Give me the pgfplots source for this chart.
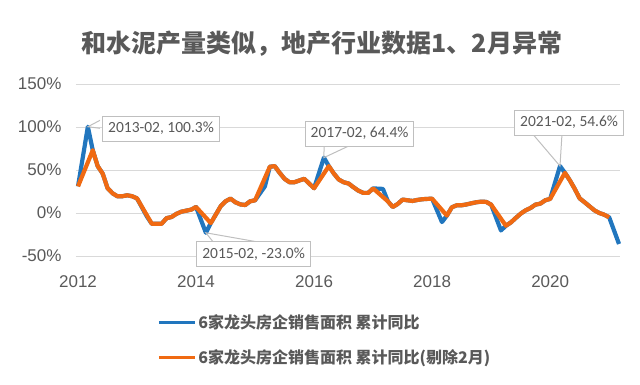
\documentclass[border=0pt]{standalone}
\usepackage{fontspec}
\setmainfont{Liberation Sans}
\newfontfamily\cjk{Noto Sans CJK SC}
\newfontfamily\lbl{Carlito}
\usepackage{pgfplots}
\pgfplotsset{compat=1.18}
\usepackage{pgfplotstable}
\definecolor{cblue}{RGB}{33,118,190}
\definecolor{corange}{RGB}{240,106,18}
\definecolor{tgray}{RGB}{89,89,89}
\definecolor{ggray}{RGB}{217,217,217}
\definecolor{bgray}{RGB}{191,191,191}

\pgfplotstableread{
m v
0 31
2 100.3
3 73
4 54.5
5 46
6 29
7 23
8 19.5
9 19.5
10 20.6
11 19.5
12 17
14 -4
15 -12.5
16 -12.5
17 -12.5
18 -6
19 -4.7
20 -1
21 1.5
22 2.7
23 3.9
24 7
26 -23
27 -11.7
28 -2
29 7.8
30 13.6
31 16.7
32 12.5
33 10
34 9.3
35 13.6
36 14.8
38 31
39 53.8
40 54.5
41 46.7
42 39.7
43 35.8
44 35.8
45 37.8
46 39.7
47 34.3
48 28.8
50 64.4
51 54.5
52 46
53 39
54 35.8
55 34.3
56 30
57 26
58 23.4
59 23.4
60 28.6
62 28
63 13.6
64 7
65 10.5
66 15.6
67 14.8
68 14
69 15.2
70 16
71 16.4
72 16.6
74 -10.5
75 -3
76 6.6
77 9
78 9
79 10
80 11.3
81 12.5
82 13.2
83 12.9
84 9.7
86 -20.3
87 -14.8
88 -11
89 -5.8
90 -0.8
91 3.1
92 5.8
93 9.7
94 10.9
95 14.8
96 16.4
98 54.6
99 46.7
100 38
101 28
102 17
103 12.5
104 7.8
105 3.1
106 0
107 -2
108 -5
110 -36
}\blueseries

\pgfplotstableread{
m v
0 31
3 73
4 54.5
5 46
6 29
7 23
8 19.5
9 19.5
10 20.6
11 19.5
12 17
15 -12.5
16 -12.5
17 -12.5
18 -6
19 -4.7
20 -1
21 1.5
22 2.7
23 3.9
24 7
27 -11.7
28 -2
29 7.8
30 13.6
31 16.7
32 12.5
33 10
34 9.3
35 13.6
36 14.8
39 53.8
40 54.5
41 46.7
42 39.7
43 35.8
44 35.8
45 37.8
46 39.7
47 34.3
48 28.8
51 54.5
52 46
53 39
54 35.8
55 34.3
56 30
57 26
58 23.4
59 23.4
60 28.6
63 13.6
64 7
65 10.5
66 15.6
67 14.8
68 14
69 15.2
70 16
71 16.4
72 16.6
75 -3
76 6.6
77 9
78 9
79 10
80 11.3
81 12.5
82 13.2
83 12.9
84 9.7
87 -14.8
88 -11
89 -5.8
90 -0.8
91 3.1
92 5.8
93 9.7
94 10.9
95 14.8
96 16.4
99 46.7
100 38
101 28
102 17
103 12.5
104 7.8
105 3.1
106 0
107 -2
108 -5
}\orangeseries

\begin{document}
\begin{tikzpicture}
\path[use as bounding box] (-76pt,-128pt) rectangle (564pt,256pt);
\begin{axis}[at={(0pt,0pt)}, anchor=south west, scale only axis,
 width=544pt, height=172pt,
 xmin=-0.41, xmax=110.2, ymin=-50, ymax=150,
 xtick={0,24,48,72,96}, xticklabels={2012,2014,2016,2018,2020},
 ytick={-50,0,50,100,150}, yticklabels={-50\%,0\%,50\%,100\%,150\%},
 ymajorgrids, grid style={ggray, line width=1pt},
 axis line style={draw=none}, major tick length=0pt,
 tick label style={font=\fontsize{17}{20}\selectfont, text=tgray},
 xticklabel style={yshift=-16pt}, yticklabel style={xshift=-11pt},
 clip=false,
 legend style={at={(0.149,-0.33)}, anchor=north west, draw=none, fill=none,
   font=\cjk\bfseries\fontsize{16}{19}\selectfont, text=tgray, row sep=15pt, inner sep=0pt},
 legend cell align=left,
 legend image code/.code={\draw[#1, line width=3pt] (0pt,0pt) -- (36pt,0pt);},
]
\addplot[cblue, line width=4.2pt, line join=round, mark=none] table[x=m,y=v]{\blueseries};
\addlegendentry{6家龙头房企销售面积 累计同比}
\addplot[corange, line width=4.2pt, line join=round, mark=none] table[x=m,y=v]{\orangeseries};
\addlegendentry{6家龙头房企销售面积 累计同比(剔除2月)}

\tikzset{callout/.style={draw=bgray, fill=white, line width=1pt,
  font=\lbl\fontsize{15.5}{18}\selectfont, text=tgray, inner xsep=5.5pt, inner ysep=5.5pt,
  text height=11pt, text depth=3pt}}
\draw[bgray, line width=1pt] (axis cs:4.47,107.8) -- (axis cs:2,100.3) -- (axis cs:4.47,98.5);
\draw[bgray, line width=1pt] (axis cs:27.46,-33.5) -- (axis cs:26,-23) -- (axis cs:36.4,-33.5);
\draw[bgray, line width=1pt] (axis cs:50.03,78.6) -- (axis cs:50,64.4) -- (axis cs:55.3,78.6);
\draw[bgray, line width=1pt] (axis cs:92.5,91.5) -- (axis cs:98,54.6) -- (axis cs:98.4,91.5);
\node[callout] at (axis cs:16.88,97.9) {2013-02, 100.3\%};
\node[callout] at (axis cs:35.7,-48.1) {2015-02, -23.0\%};
\node[callout] at (axis cs:57.25,92.1) {2017-02, 64.4\%};
\node[callout] at (axis cs:99.86,104.9) {2021-02, 54.6\%};
\end{axis}
\node[font=\cjk\bfseries\fontsize{25}{30}\selectfont, text=tgray] at (246pt,212pt) {和水泥产量类似，地产行业数据1、2月异常};
\end{tikzpicture}
\end{document}
